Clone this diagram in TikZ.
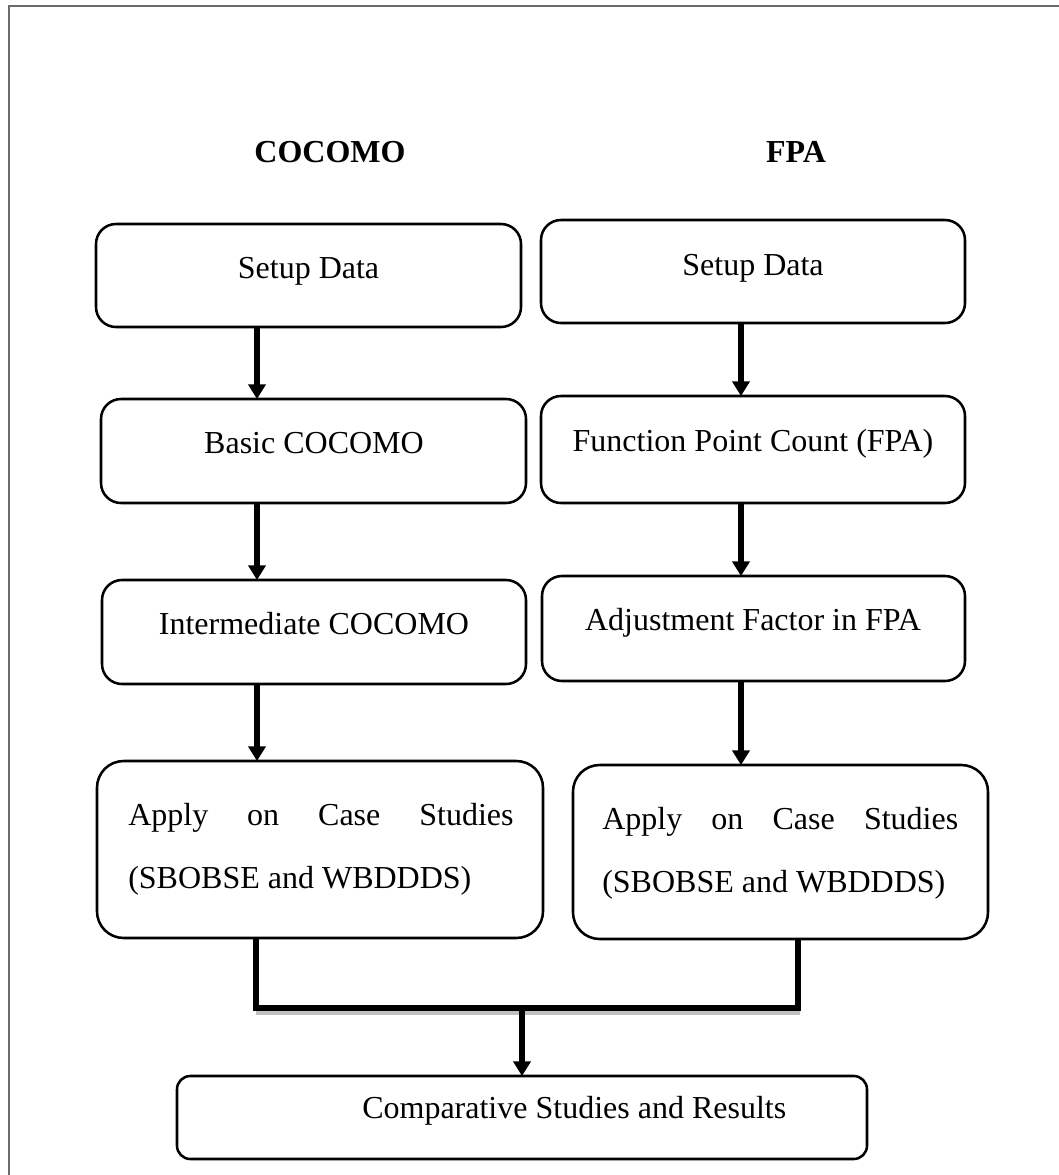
\documentclass[tikz,border=0pt]{standalone}
\usepackage{fontspec}
\setmainfont{Liberation Serif}
\usetikzlibrary{arrows.meta,fit,calc}
\begin{document}
\begin{tikzpicture}[x=0.75pt,y=-0.75pt,
  box/.style={draw=black,line width=1.9pt,rounded corners=15pt,inner sep=0pt},
  bigbox/.style={box,rounded corners=20pt},
  endbox/.style={box,rounded corners=10pt},
  txt/.style={anchor=base,inner sep=0pt,font=\fontsize{24pt}{28pt}\selectfont},
  ltxt/.style={txt,anchor=base west},
  head/.style={txt,font=\fontsize{24pt}{28pt}\selectfont\bfseries},
  arr/.style={line width=4.4pt,-{Triangle[width=12.75pt,length=11pt]},shorten >=-1pt},
  merge/.style={line width=4pt,line join=miter},
  frame/.style={draw=black!58,line width=1.5pt}]
\useasboundingbox (0,0) rectangle (1059,1175);
\draw[frame] (9,1175) -- (9,6) -- (1059,6);
% headers
\node[head] (h1) at (330,162) {COCOMO};
\node[head] (h2) at (796,162) {FPA};
% boxes
\node[box,fit={(96,224) (521,327)}] (l1) {};
\node[box,fit={(541,220) (965,323)}] (r1) {};
\node[box,fit={(101,399) (526,503)}] (l2) {};
\node[box,fit={(541,396) (965,503)}] (r2) {};
\node[box,fit={(102,580) (526,684)}] (l3) {};
\node[box,fit={(542,576) (965,681)}] (r3) {};
\node[bigbox,fit={(97,761) (543,938)}] (l4) {};
\node[bigbox,fit={(573,765) (988,939)}] (r4) {};
\node[endbox,fit={(177,1076) (867,1159)}] (res) {};
% texts
\node[txt] (l1t) at (308.5,278) {Setup Data};
\node[txt] (r1t) at (753,275) {Setup Data};
\node[txt] (l2t) at (314,453) {Basic COCOMO};
\node[txt] (r2t) at (753,451) {Function Point Count (FPA)};
\node[txt] (l3t) at (314,634) {Intermediate COCOMO};
\node[txt] (r3t) at (753,630) {Adjustment Factor in FPA};
\node[ltxt] (l4a) at (128,825) {\makebox[289pt][s]{Apply\hfill on\hfill Case\hfill Studies}};
\node[ltxt] (l4b) at (128,888) {(SBOBSE and WBDDDS)};
\node[ltxt] (r4a) at (602,829) {\makebox[267pt][s]{Apply\hfill on\hfill Case\hfill Studies}};
\node[ltxt] (r4b) at (602,892) {(SBOBSE and WBDDDS)};
\node[ltxt] (rest) at (362,1118) {Comparative Studies and Results};
% arrow columns
\coordinate (cl) at (257,0);
\coordinate (cr) at (741,0);
\draw[arr] (l1.south -| cl) -- (l2.north -| cl);
\draw[arr] (l2.south -| cl) -- (l3.north -| cl);
\draw[arr] (l3.south -| cl) -- (l4.north -| cl);
\draw[arr] (r1.south -| cr) -- (r2.north -| cr);
\draw[arr] (r2.south -| cr) -- (r3.north -| cr);
\draw[arr] (r3.south -| cr) -- (r4.north -| cr);
% merge
\coordinate (ml) at (256,0);
\coordinate (mr) at (798,0);
\coordinate (mj) at (522,1008);
\draw[draw=black!25,line width=3pt] (256,1013) -- (800,1013);
\draw[merge] (l4.south -| ml) |- (mj) -| (r4.south -| mr);
\draw[arr] (mj) -- (res.north -| mj);
\end{tikzpicture}
\end{document}
